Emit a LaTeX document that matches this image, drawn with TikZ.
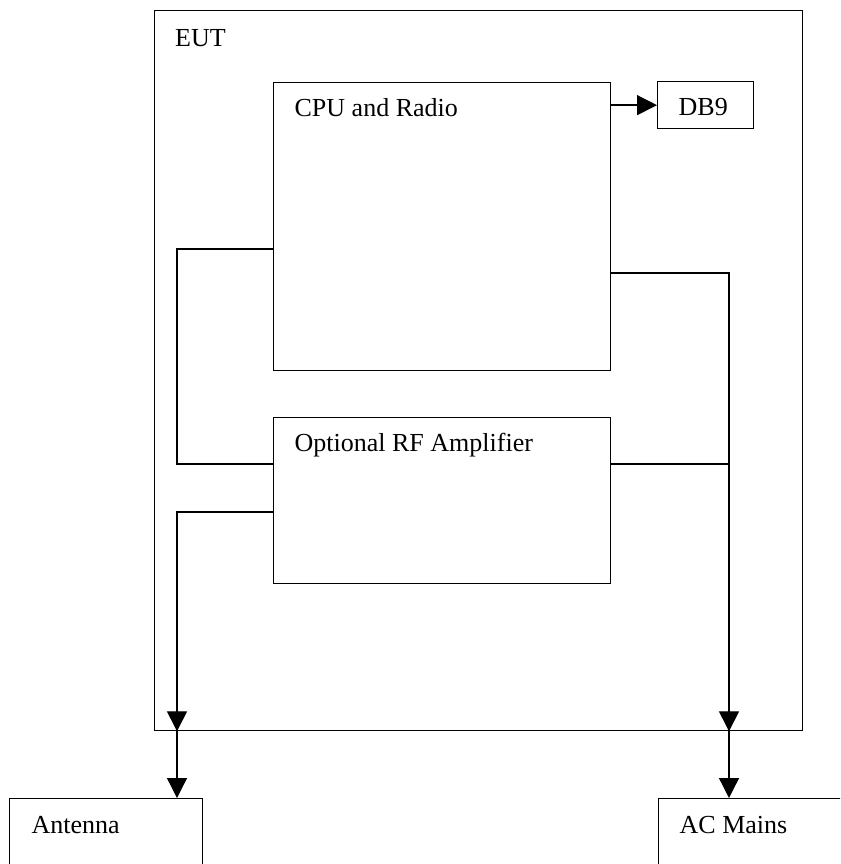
\documentclass[tikz,border=0pt]{standalone}
\usepackage{fontspec}
\setmainfont{Liberation Serif}
\usepackage{tikz}
\usetikzlibrary{arrows.meta, calc}

\begin{document}
\begin{tikzpicture}[
  x=1pt, y=-1pt,
  line width=1.3pt,
  blk/.style={draw, rectangle, inner sep=0pt, anchor=north west},
  txt/.style={inner sep=0pt, anchor=base west, font=\fontsize{26}{31}\selectfont},
  arr/.style={-{Triangle[length=20pt, width=20pt]}}
]
  \clip (0,0) rectangle (840,864);

  % boxes
  \node[blk, minimum width=648.5pt, minimum height=720pt] (eut) at (153.5,10) {};
  \node[blk, minimum width=337pt, minimum height=288pt] (cpu) at (273,82) {};
  \node[blk, minimum width=96pt, minimum height=47pt] (db9) at (657,81) {};
  \node[blk, minimum width=337pt, minimum height=166pt] (amp) at (273,417) {};
  \node[blk, minimum width=193pt, minimum height=120pt] (ant) at (9,798) {};
  \node[blk, minimum width=220pt, minimum height=120pt] (mains) at (658,798) {};

  % labels
  \node[txt] (eutlbl) at ($(eut.north west)+(21,37)$) {EUT};
  \node[txt] (cpulbl) at ($(cpu.north west)+(21,35)$) {CPU and Radio};
  \node[txt] (db9lbl) at ($(db9.north west)+(21,35)$) {DB9};
  \node[txt] (amplbl) at ($(amp.north west)+(21,34)$) {Optional RF Amplifier};
  \node[txt] (antlbl) at ($(ant.north west)+(22,35)$) {Antenna};
  \node[txt] (mainslbl) at ($(mains.north west)+(21,35)$) {AC Mains};

  \coordinate (antx) at (177,0);
  \coordinate (acx) at (729,0);

  \draw[arr] (db9.west -| cpu.east) -- (db9.west);
  \draw (cpu.west |- 0,249) -| (antx |- 0,464) -- (amp.west |- 0,464);
  \draw[arr] (amp.west |- 0,512) -| (eut.south -| antx);
  \draw[arr] (eut.south -| antx) -- (ant.north -| antx);
  \draw[arr] (cpu.east |- 0,273) -| (eut.south -| acx);
  \draw (amp.east |- 0,464) -- (acx |- 0,464);
  \draw[arr] (eut.south -| acx) -- (mains.north -| acx);
\end{tikzpicture}
\end{document}
